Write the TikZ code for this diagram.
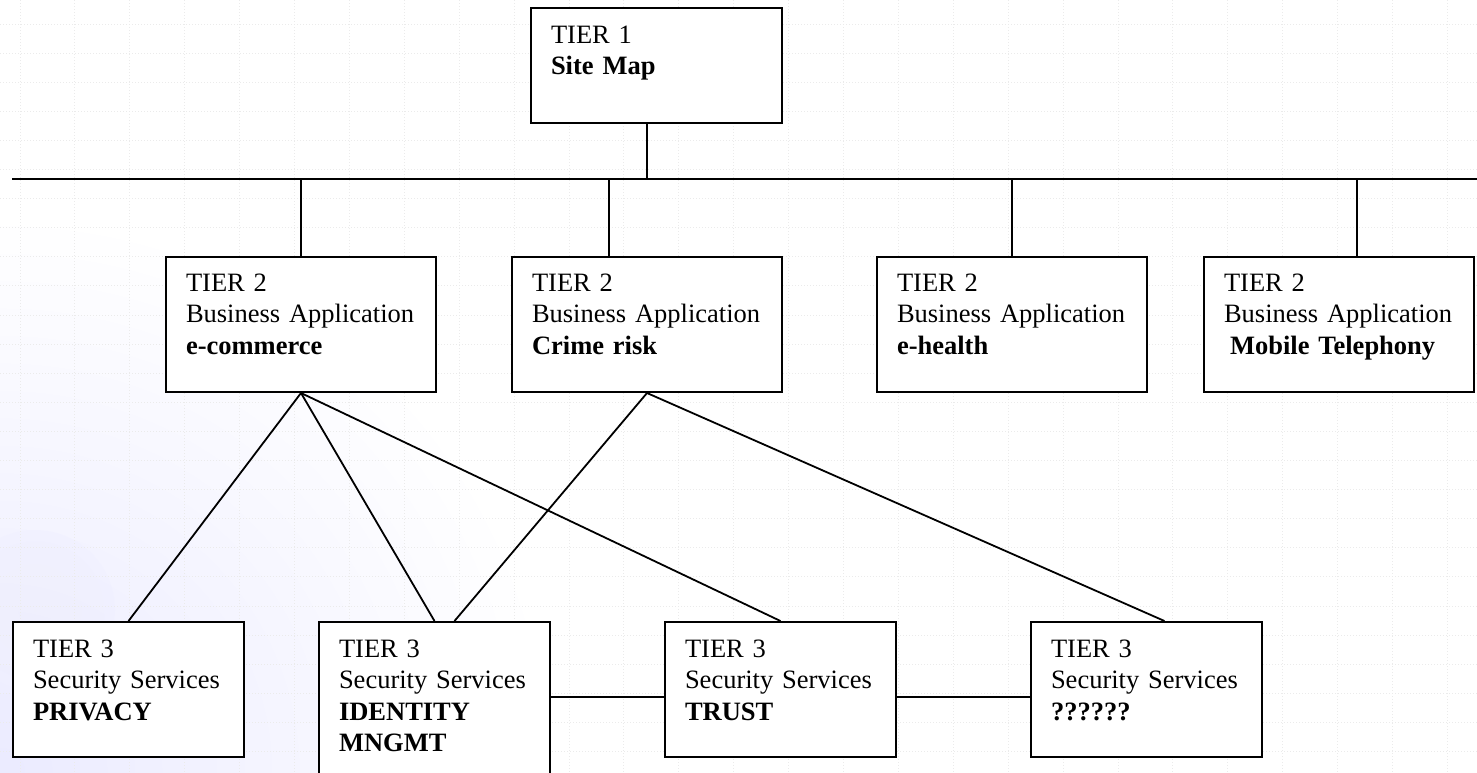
\documentclass[tikz,border=0pt]{standalone}
\usepackage{fontspec}
\setmainfont{Liberation Serif}
\usetikzlibrary{positioning,calc}

\begin{document}
\begin{tikzpicture}[
    x=0.5pt, y=-0.5pt,
    line width=0.9pt
  ]
\tikzstyle{tier}=[draw,fill=white,line width=1pt,anchor=north west,inner xsep=10pt,inner ysep=0pt,align=left,font=\fontsize{13.25pt}{15.75pt}\selectfont]
\tikzstyle{tierone}=[tier,text width=105.5pt,text height=17.5pt,text depth=40pt]
\tikzstyle{tiertwo}=[tier,text width=115pt,text height=17pt,text depth=50.5pt]
\tikzstyle{tierthree}=[tier,text width=95.5pt,text height=17.5pt,text depth=50pt]
\tikzstyle{paper}=[draw=black!8,line width=0.5pt,densely dotted]

\useasboundingbox (0,0) rectangle (1477,772);

% squared paper behind the chart
\shade[inner color=blue!8!white,outer color=white] (0,772) circle (560);
\shade[inner color=gray!35!blue!8!white,outer color=blue!6!white,opacity=.6] (35,610) circle (80);
\foreach \i in {0,...,26}
  \draw[paper] (20+54.9*\i,0) -- (20+54.9*\i,772);
\foreach \j in {0,...,25}
  \draw[paper] (0,24+29.1*\j) -- (1477,24+29.1*\j);

\node[tierone] (site) at (530,7) {TIER 1\\\textbf{Site Map}};

\node[tiertwo] (ecom) at (165,256) {TIER 2\\Business Application\\\textbf{e-commerce}};
\node[tiertwo,right=37pt of ecom.north east,anchor=north west] (crime) {TIER 2\\Business Application\\\textbf{Crime risk}};
\node[tiertwo,right=46.5pt of crime.north east,anchor=north west] (health) {TIER 2\\Business Application\\\textbf{e-health}};
\node[tiertwo,right=27.5pt of health.north east,anchor=north west] (mobile) {TIER 2\\Business Application\\\hspace*{3pt}\textbf{Mobile Telephony}};

\node[tierthree] (priv) at (12,621) {TIER 3\\Security Services\\\textbf{PRIVACY}};
\node[tierthree,text depth=67pt,right=36.5pt of priv.north east,anchor=north west] (ident) {TIER 3\\Security Services\\\textbf{IDENTITY}\\\textbf{MNGMT}};
\node[tierthree,right=56.5pt of ident.north east,anchor=north west] (trust) {TIER 3\\Security Services\\\textbf{TRUST}};
\node[tierthree,right=66.5pt of trust.north east,anchor=north west] (unk) {TIER 3\\Security Services\\\textbf{??????}};

\coordinate (busL) at (12,179);
\coordinate (busR) at (1477,179);
\coordinate (link) at (0,697);

% bus and stems
\draw (busL) -- (busR);
\draw ($(site.south)+(-4.75pt,0)$) -- ($(site.south |- busL)+(-4.75pt,0)$);
\foreach \n/\dx in {ecom/0pt,crime/-19pt,health/0pt,mobile/9pt}
  \draw ($(\n.north)+(\dx,0)$) -- ($(\n.north |- busL)+(\dx,0)$);

% services used by the applications
\draw (ecom.south) -- (priv.north);
\draw (ecom.south) -- (ident.north);
\draw (ecom.south) -- (trust.north);
\draw (crime.south) -- ([xshift=10pt]ident.north);
\draw (crime.south) -- ([xshift=9pt]unk.north);

\draw (ident.east |- link) -- (trust.west |- link);
\draw (trust.east |- link) -- (unk.west |- link);

\end{tikzpicture}
\end{document}
